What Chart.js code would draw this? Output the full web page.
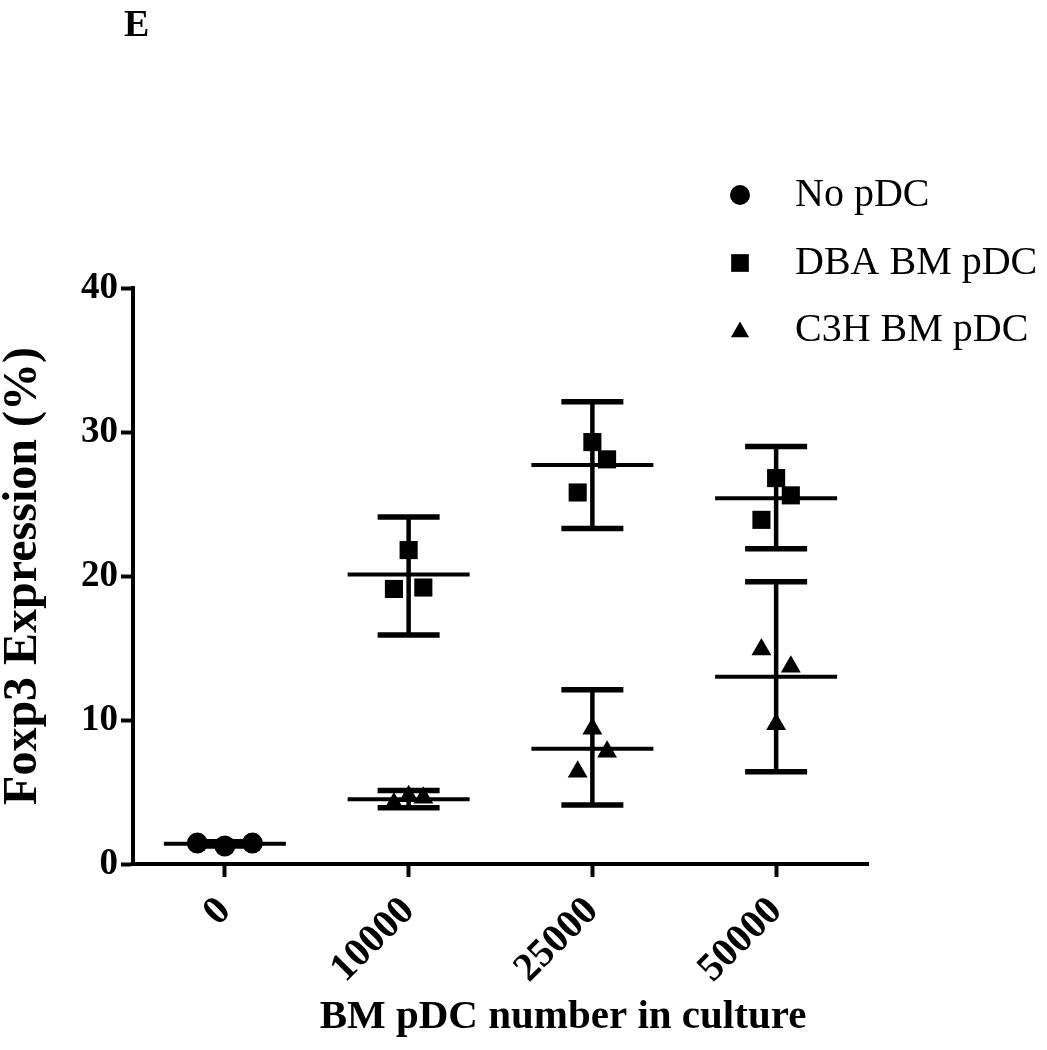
<!DOCTYPE html>
<html><head><meta charset="utf-8">
<script src="https://cdn.jsdelivr.net/npm/chart.js@4/dist/chart.umd.min.js"></script>
<style>html,body{margin:0;padding:0;background:#fff}canvas{display:block}</style>
</head><body>
<canvas id="c" width="1047" height="1050"></canvas>
<script>
// ---- data ----
const panelLabel = 'E';
const categories = ['0', '10000', '25000', '50000'];
const yTicks = [0, 10, 20, 30, 40];
const xTitle = 'BM pDC number in culture';
const yTitle = 'Foxp3 Expression (%)';
const seriesNames = ['No pDC', 'DBA BM pDC', 'C3H BM pDC'];

// replicate values per category (left, middle, right replicate)
const noPdcValues = [[1.45, 1.25, 1.45], null, null, null];
const dbaValues   = [null, [19.1, 21.8, 19.2], [25.8, 29.3, 28.1], [23.9, 26.8, 25.6]];
const c3hValues   = [null, [4.2, 4.7, 4.6], [6.4, 9.4, 7.8], [14.9, 9.7, 13.7]];

// mean and error-bar ends per category
const noPdcMean = [1.4, null, null, null];
const noPdcLow  = [1.25, null, null, null];
const noPdcHigh = [1.55, null, null, null];
const dbaMean = [null, 20.1, 27.7, 25.4];
const dbaLow  = [null, 15.9, 23.3, 21.9];
const dbaHigh = [null, 24.1, 32.1, 29.0];
const c3hMean = [null, 4.5, 8.0, 13.0];
const c3hLow  = [null, 3.9, 4.1, 6.4];
const c3hHigh = [null, 5.1, 12.1, 19.6];

// ---- styling ----
const FONT = "'Liberation Serif', 'Times New Roman', serif";
const jitterWide = [-0.15, 0, 0.15];
const jitterNarrow = [-0.08, 0, 0.08];

function toPoints(values, jitter) {
  const pts = [];
  values.forEach((grp, i) => {
    if (!grp) return;
    grp.forEach((v, j) => pts.push({ x: i + jitter[j], y: v }));
  });
  return pts;
}

const summaries = [
  { mean: noPdcMean, low: noPdcLow, high: noPdcHigh },
  { mean: dbaMean, low: dbaLow, high: dbaHigh },
  { mean: c3hMean, low: c3hLow, high: c3hHigh }
];

const summaryPlugin = {
  id: 'summary',
  afterDatasetsDraw(chart) {
    const ctx = chart.ctx, xs = chart.scales.x, ys = chart.scales.y;
    ctx.save();
    ctx.strokeStyle = '#000';
    ctx.lineCap = 'butt';
    summaries.forEach(s => {
      s.mean.forEach((m, i) => {
        if (m === null) return;
        const px = xs.getPixelForValue(i);
        const pm = ys.getPixelForValue(m);
        const pl = ys.getPixelForValue(s.low[i]);
        const ph = ys.getPixelForValue(s.high[i]);
        ctx.lineWidth = 4.5;
        ctx.beginPath(); ctx.moveTo(px, pl); ctx.lineTo(px, ph); ctx.stroke();
        ctx.lineWidth = 5.5;
        ctx.beginPath(); ctx.moveTo(px - 31, pl); ctx.lineTo(px + 31, pl); ctx.stroke();
        ctx.beginPath(); ctx.moveTo(px - 31, ph); ctx.lineTo(px + 31, ph); ctx.stroke();
        ctx.lineWidth = 4;
        ctx.beginPath(); ctx.moveTo(px - 61, pm); ctx.lineTo(px + 61, pm); ctx.stroke();
      });
    });
    ctx.restore();
  }
};

function drawMarker(ctx, style, x, y, r) {
  ctx.beginPath();
  if (style === 'circle') {
    ctx.arc(x, y, r, 0, Math.PI * 2);
  } else if (style === 'rect') {
    const s = r * Math.SQRT1_2;
    ctx.rect(x - s, y - s, 2 * s, 2 * s);
  } else {
    ctx.moveTo(x, y - r);
    ctx.lineTo(x + r * Math.sin(Math.PI * 2 / 3), y - r * Math.cos(Math.PI * 2 / 3));
    ctx.lineTo(x - r * Math.sin(Math.PI * 2 / 3), y - r * Math.cos(Math.PI * 2 / 3));
    ctx.closePath();
  }
  ctx.fill();
}

const decorPlugin = {
  id: 'decor',
  afterDraw(chart) {
    const ctx = chart.ctx;
    ctx.save();
    ctx.fillStyle = '#000';
    ctx.font = 'bold 38px ' + FONT;
    ctx.textBaseline = 'alphabetic';
    ctx.textAlign = 'left';
    ctx.fillText(panelLabel, 124, 36);
    // x axis title
    ctx.font = 'bold 41px ' + FONT;
    ctx.textAlign = 'center';
    ctx.fillText(xTitle, 563, 1028);
    // legend
    const rows = [195, 263, 330];
    ctx.font = '40px ' + FONT;
    ctx.textAlign = 'left';
    ctx.textBaseline = 'middle';
    chart.data.datasets.forEach((ds, k) => {
      const r = ds.pointStyle === 'circle' ? 10 : (ds.pointStyle === 'rect' ? 12.5 : 10.5);
      drawMarker(ctx, ds.pointStyle, 740, rows[k] + (ds.pointStyle === 'triangle' ? 2 : 0), r);
      ctx.fillText(ds.label, 795, rows[k]);
    });
    ctx.restore();
  }
};

new Chart(document.getElementById('c'), {
  type: 'scatter',
  data: {
    datasets: [
      { label: seriesNames[0], data: toPoints(noPdcValues, jitterWide), pointStyle: 'circle', pointRadius: 10.5, backgroundColor: '#000', borderColor: '#000', borderWidth: 0 },
      { label: seriesNames[1], data: toPoints(dbaValues, jitterNarrow), pointStyle: 'rect', pointRadius: 12.8, backgroundColor: '#000', borderColor: '#000', borderWidth: 0 },
      { label: seriesNames[2], data: toPoints(c3hValues, jitterNarrow), pointStyle: 'triangle', pointRadius: 11.5, backgroundColor: '#000', borderColor: '#000', borderWidth: 0 }
    ]
  },
  options: {
    responsive: false,
    animation: false,
    devicePixelRatio: 1,
    layout: { padding: { left: 0, right: 179, top: 288, bottom: 0 } },
    plugins: { legend: { display: false }, tooltip: { enabled: false }, title: { display: false } },
    scales: {
      x: {
        type: 'linear', min: -0.5, max: 3.5,
        afterBuildTicks(scale) { scale.ticks = categories.map((c, i) => ({ value: i })); },
        afterFit(scale) { scale.height = 186; },
        border: { display: true, width: 4, color: '#000' },
        grid: { display: true, drawOnChartArea: false, drawTicks: true, tickLength: 13, tickWidth: 4, tickColor: '#000' },
        ticks: {
          color: '#000', padding: 11, minRotation: 45, maxRotation: 45, autoSkip: false,
          font: { family: FONT, size: 40, weight: 'bold' },
          callback: (v) => categories[v]
        },
        title: { display: false }
      },
      y: {
        type: 'linear', min: 0, max: 40,
        afterBuildTicks(scale) { scale.ticks = yTicks.map(v => ({ value: v })); },
        afterFit(scale) { scale.width = 133; },
        border: { display: true, width: 4, color: '#000' },
        grid: { display: true, drawOnChartArea: false, drawTicks: true, tickLength: 12, tickWidth: 4, tickColor: '#000' },
        ticks: { color: '#000', padding: 3, font: { family: FONT, size: 37, weight: 'bold' } },
        title: { display: true, text: yTitle, color: '#000', padding: 0, font: { family: FONT, size: 48, weight: 'bold', lineHeight: 1 } }
      }
    }
  },
  plugins: [summaryPlugin, decorPlugin]
});
</script>
</body></html>
